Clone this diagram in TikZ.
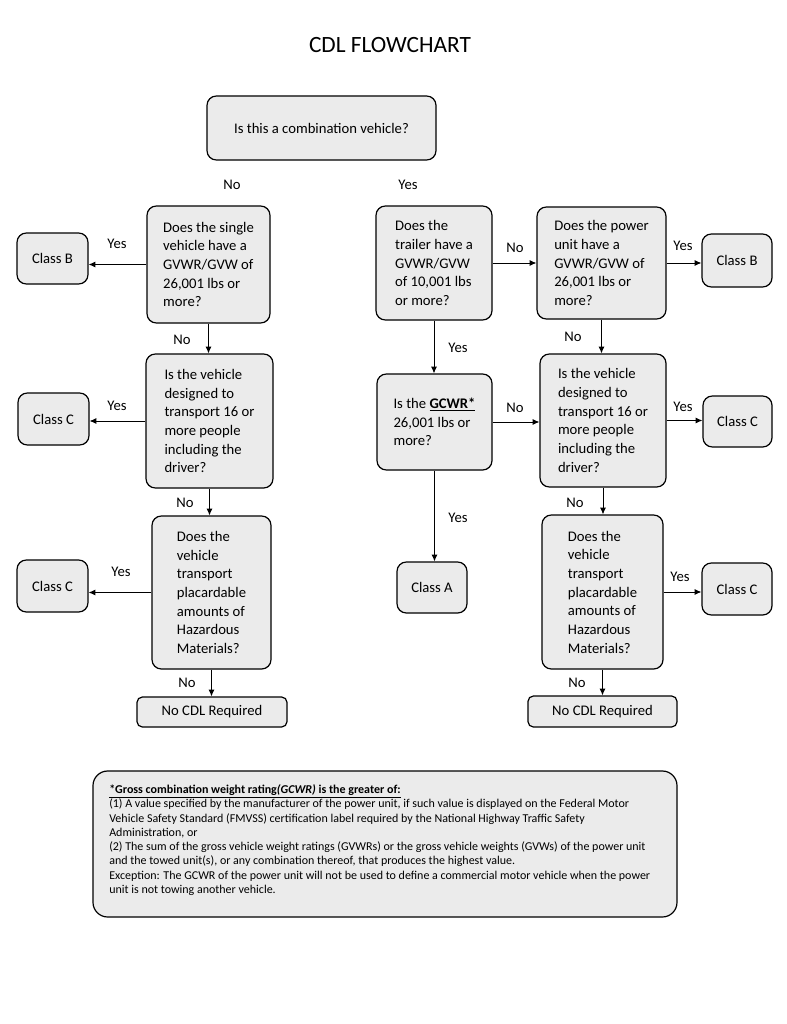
\documentclass[tikz,border=0pt]{standalone}
\usepackage{fontspec}
\setmainfont{Carlito}
\usetikzlibrary{arrows.meta,backgrounds}
\definecolor{boxfill}{gray}{0.92}
\tikzset{
  base/.style={draw, line width=0.9pt, fill=boxfill, rounded corners=7pt, inner sep=0pt,
    font=\fontsize{11}{14}\selectfont},
  qbox/.style={base, align=left},
  cbox/.style={base, align=center},
  arr/.style={line width=0.7pt, -{Latex[length=5pt,width=4.5pt]}},
  lbl/.style={font=\fontsize{11}{13}\selectfont, inner sep=1pt},
}
\begin{document}
\begin{tikzpicture}[x=0.75pt,y=-0.75pt]
\fill[white] (0,0) rectangle (786,1024);
\useasboundingbox (0,0) rectangle (786,1024);

\node[font=\fontsize{17.5}{19}\selectfont] (title) at (390,45) {CDL FLOWCHART};

% top question
\node[cbox, minimum width=171.75pt, minimum height=48pt] (top) at (321.5,128) {Is this a combination vehicle?};

% left column
\node[qbox, minimum width=92.25pt, minimum height=87.75pt] (L1) at (208.5,264.5)
  {Does the single\\vehicle have a\\GVWR/GVW of\\26,001 lbs or\\more?};
\node[qbox, minimum width=95.25pt, minimum height=100.5pt] (L2) at (209.5,421)
  {Is the vehicle\\designed to\\transport 16 or\\more people\\including the\\driver?};
\node[qbox, minimum width=89.25pt, minimum height=114.75pt] (L3) at (211.5,592.5)
  {Does the\\vehicle\\transport\\placardable\\amounts of\\Hazardous\\Materials?};
\node[cbox, rounded corners=4pt, minimum width=112.5pt, minimum height=22.5pt] (NL) at (212,712) {No CDL Required};
\node[cbox, minimum width=53.25pt, minimum height=38.25pt] (CBL) at (52.5,258.5) {Class B};
\node[cbox, minimum width=53.25pt, minimum height=39pt] (CCL2) at (53.5,419) {Class C};
\node[cbox, minimum width=53.25pt, minimum height=39pt] (CCL3) at (52.5,586) {Class C};

% middle column
\node[qbox, minimum width=87pt, minimum height=85.5pt] (M1) at (434,263)
  {Does the\\trailer have a\\GVWR/GVW\\of 10,001 lbs\\or more?};
\node[qbox, minimum width=86.25pt, minimum height=72pt] (M2) at (434.5,422)
  {Is the \textbf{\underline{GCWR*}}\\26,001 lbs or\\more?};
\node[cbox, minimum width=52.5pt, minimum height=38.25pt] (CA) at (432,587.5) {Class A};

% right column
\node[qbox, minimum width=96.75pt, minimum height=84pt] (R1) at (601.5,263)
  {Does the power\\unit have a\\GVWR/GVW of\\26,001 lbs or\\more?};
\node[qbox, minimum width=94.5pt, minimum height=99.75pt] (R2) at (603,420.5)
  {Is the vehicle\\designed to\\transport 16 or\\more people\\including the\\driver?};
\node[qbox, minimum width=90.75pt, minimum height=115.5pt] (R3) at (602.5,592)
  {Does the\\vehicle\\transport\\placardable\\amounts of\\Hazardous\\Materials?};
\node[cbox, rounded corners=4pt, minimum width=111.75pt, minimum height=23.25pt] (NR) at (602.5,711.5) {No CDL Required};
\node[cbox, minimum width=52.5pt, minimum height=39.75pt] (CBR) at (737,260.5) {Class B};
\node[cbox, minimum width=51.75pt, minimum height=38.25pt] (CCR2) at (737.5,421.5) {Class C};
\node[cbox, minimum width=52.5pt, minimum height=39pt] (CCR3) at (737,589) {Class C};

% connectors
\begin{scope}[on background layer]
\draw[arr] (L1.north |- top.center) -- (L1.north);
\draw[arr] (M1.north |- top.center) -- (M1.north);
\end{scope}
\draw[arr] (L1.west) -- (L1.west -| CBL.east);
\draw[arr] (L1.south) -- (L1.south |- L2.north);
\draw[arr] (L2.west) -- (L2.west -| CCL2.east);
\draw[arr] (L2.south) -- (L2.south |- L3.north);
\draw[arr] (L3.west) -- (L3.west -| CCL3.east);
\draw[arr] (L3.south) -- (L3.south |- NL.north);

\draw[arr] (M1.east) -- (M1.east -| R1.west);
\draw[arr] (M1.south) -- (M1.south |- M2.north);
\draw[arr] (M2.east) -- (M2.east -| R2.west);
\draw[arr] (M2.south) -- (M2.south |- CA.north);

\draw[arr] (R1.east) -- (R1.east -| CBR.west);
\draw[arr] (R1.south) -- (R1.south |- R2.north);
\draw[arr] (R2.east) -- (R2.east -| CCR2.west);
\draw[arr] (R2.south) -- (R2.south |- R3.north);
\draw[arr] (R3.east) -- (R3.east -| CCR3.west);
\draw[arr] (R3.south) -- (R3.south |- NR.north);

% labels
\node[lbl] (t1) at (232,185) {No};
\node[lbl] (t2) at (408,185) {Yes};
\node[lbl] (t3) at (117,244) {Yes};
\node[lbl] (t4) at (182,340) {No};
\node[lbl] (t5) at (117,406) {Yes};
\node[lbl] (t6) at (185,503) {No};
\node[lbl] (t7) at (121,572) {Yes};
\node[lbl] (t8) at (187,683) {No};
\node[lbl] (t9) at (515,248) {No};
\node[lbl] (t10) at (683,246) {Yes};
\node[lbl] (t11) at (458,348) {Yes};
\node[lbl] (t12) at (573,337) {No};
\node[lbl] (t13) at (515,408) {No};
\node[lbl] (t14) at (683,407) {Yes};
\node[lbl] (t15) at (575,503) {No};
\node[lbl] (t16) at (458,518) {Yes};
\node[lbl] (t17) at (680,577) {Yes};
\node[lbl] (t18) at (577,683) {No};

% footnote
\node[base, rounded corners=11pt, minimum width=438pt, minimum height=109.5pt] (fn) at (385,844) {};
\node[anchor=west, align=left, inner sep=0pt, font=\fontsize{9}{10.7}\selectfont] (fntext) at (109,840)
{\textbf{\underline{*Gross combination weight rating\textit{(GCWR)} is the greater of:}}\\
(1) A value specified by the manufacturer of the power unit, if such value is displayed on the Federal Motor\\
Vehicle Safety Standard (FMVSS) certification label required by the National Highway Traffic Safety\\
Administration, or\\
(2) The sum of the gross vehicle weight ratings (GVWRs) or the gross vehicle weights (GVWs) of the power unit\\
and the towed unit(s), or any combination thereof, that produces the highest value.\\
Exception: The GCWR of the power unit will not be used to define a commercial motor vehicle when the power\\
unit is not towing another vehicle.};
\end{tikzpicture}
\end{document}
